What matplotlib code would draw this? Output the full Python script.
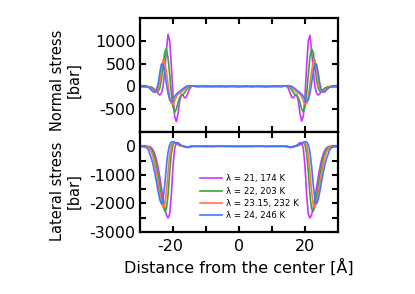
import matplotlib
matplotlib.use("Agg")
import matplotlib.pyplot as plt
import matplotlib.transforms as mtransforms
from matplotlib.ticker import FixedLocator

plt.rcParams['font.family'] = ['DejaVu Sans']
plt.rcParams['axes.unicode_minus'] = False

# ---------------- data ----------------
x_left = [-30, -29, -28, -27.5, -27, -26.5, -26, -25.5, -25, -24.5, -24, -23.5, -23, -22.5,
          -22, -21.5, -21, -20.5, -20, -19.5, -19, -18.5, -18, -17.5, -17, -16.5, -16, -15.5,
          -15, -14.5, -14, -13.5, -13]
x_mid = [-12, -10, -8, -6, -4, -2, 0, 2, 4, 6, 8, 10, 12]
x_right = [13, 13.5, 14, 14.5, 15, 15.5, 16, 16.5, 17, 17.5, 18, 18.5, 19, 19.5, 20, 20.5,
           21, 21.5, 22, 22.5, 23, 23.5, 24, 24.5, 25, 25.5, 26, 26.5, 27, 27.5, 28, 29, 30]
distance = x_left + x_mid + x_right

labels = ["λ = 21, 174 K", "λ = 22, 203 K", "λ = 23.15, 232 K", "λ = 24, 246 K"]
colors = ["#cc33ff", "#33aa33", "#ff7744", "#4477ff"]

# Normal stress [bar]
normal_21 = ([0, 0, 0, -5, -10, -20, -40, -70, -110, -160, -190, -150, 0, 350, 800, 1140, 1000,
              450, -200, -650, -775, -600, -330, -180, -190, -250, -240, -150, -50, -5, 10, 5, 0]
             + [5, -10, 8, -5, 10, -8, 3, -6, 9, -4, 7, -10, 5]
             + [0, 5, 10, -5, -50, -150, -240, -250, -190, -180, -330, -600, -760, -650, -200,
                450, 1000, 1120, 800, 350, 0, -150, -190, -160, -110, -70, -40, -20, -10, -5, 0, 0, 0])
normal_22 = ([0, 0, 0, -5, -10, -25, -50, -80, -110, -110, -40, 150, 450, 750, 825, 620, 250,
              -150, -450, -570, -500, -360, -250, -200, -180, -140, -80, -30, -5, 5, 10, 5, 0]
             + [-6, 8, -4, 10, -7, 5, -9, 6, -3, 9, -8, 4, -5]
             + [0, 5, 10, 5, -5, -30, -80, -140, -180, -200, -250, -360, -500, -560, -450, -150,
                250, 650, 820, 750, 450, 150, -40, -110, -110, -80, -50, -25, -10, -5, 0, 0, 0])
normal_2315 = ([0, 0, -5, -10, -25, -50, -85, -115, -110, -40, 120, 380, 585, 540, 330, 50, -220,
                -380, -390, -320, -230, -170, -150, -130, -100, -60, -25, -5, 5, 10, 10, 5, 0]
               + [9, -5, 6, -10, 4, -6, 10, -4, 7, -9, 3, 8, -6]
               + [0, 5, 10, 10, 5, -5, -25, -60, -100, -130, -150, -170, -230, -320, -390, -380,
                  -220, 50, 330, 540, 580, 380, 120, -40, -110, -115, -85, -50, -25, -10, -5, 0, 0])
normal_24 = ([0, -5, -10, -20, -45, -85, -120, -130, -80, 60, 300, 490, 460, 300, 70, -150, -300,
              -335, -290, -220, -170, -140, -110, -80, -50, -25, 0, 10, 15, 15, 10, 5, 0]
             + [-4, 10, -8, 5, -6, 9, -5, 7, -10, 4, -7, 6, 8]
             + [0, 5, 10, 15, 15, 10, 0, -25, -50, -80, -110, -140, -170, -220, -290, -340,
                -300, -150, 70, 300, 460, 490, 300, 60, -80, -130, -120, -85, -45, -20, -10, -5, 0])

# Lateral stress [bar]
lateral_21 = ([0, 0, 0, -5, -20, -60, -140, -280, -480, -750, -1080, -1450, -1820, -2150, -2400,
               -2510, -2380, -1700, -700, -80, 110, 130, 80, 30, 0, -20, -40, -45, -30, -10, 0, 0, 0]
              + [10, -12, 8, -6, 12, -9, 5, -10, 7, -5, 11, -8, 6]
              + [0, 0, 0, -10, -30, -45, -40, -20, 0, 30, 80, 130, 110, -80, -700, -1700, -2380,
                 -2510, -2400, -2150, -1820, -1450, -1080, -750, -480, -280, -140, -60, -20, -5, 0, 0, 0])
lateral_22 = ([0, 0, -5, -15, -45, -110, -230, -420, -680, -1000, -1370, -1750, -2080, -2270, -2200,
               -1700, -900, -250, 60, 130, 110, 70, 30, 10, 0, -15, -30, -35, -20, -5, 0, 0, 0]
              + [-8, 6, -11, 9, -5, 10, -7, 4, -9, 12, -6, 8, -4]
              + [0, 0, 0, -5, -20, -35, -30, -15, 0, 10, 30, 70, 110, 130, 60, -250, -900, -1700,
                 -2200, -2270, -2080, -1750, -1370, -1000, -680, -420, -230, -110, -45, -15, -5, 0, 0])
lateral_2315 = ([0, -5, -15, -40, -100, -210, -390, -640, -950, -1300, -1660, -1970, -2150, -2050,
                 -1600, -900, -300, 30, 130, 130, 100, 60, 30, 10, 0, -10, -25, -30, -15, -5, 0, 0, 0]
                + [7, -9, 11, -4, 8, -12, 6, -7, 10, -5, 9, -6, 5]
                + [0, 0, 0, -5, -15, -30, -25, -10, 0, 10, 30, 60, 100, 130, 130, 30, -300, -900,
                   -1600, -2050, -2150, -1970, -1660, -1300, -950, -640, -390, -210, -100, -40, -15, -5, 0])
lateral_24 = ([0, -10, -50, -120, -280, -440, -660, -940, -1250, -1580, -1870, -2010, -1850, -1350,
               -700, -200, 60, 150, 160, 140, 110, 80, 50, 30, 10, -5, -15, -20, -10, 0, 0, 0, 0]
              + [-5, 9, -6, 11, -8, 4, -10, 7, -4, 8, -11, 5, -7]
              + [0, 0, 0, 0, -10, -20, -15, -5, 10, 30, 50, 80, 110, 140, 160, 150, 60, -200, -700,
                 -1350, -1850, -2010, -1870, -1580, -1250, -940, -660, -440, -280, -120, -50, -10, 0])

normal_series = [normal_21, normal_22, normal_2315, normal_24]
lateral_series = [lateral_21, lateral_22, lateral_2315, lateral_24]

# ---------------- figure ----------------
fig = plt.figure(figsize=(4.15, 2.94), dpi=100)
L, W = 140 / 415, 198 / 415
ax1 = fig.add_axes([L, 1 - 132 / 294, W, 114 / 294])
ax2 = fig.add_axes([L, 1 - 232 / 294, W, 100 / 294])

for ys, c in zip(normal_series, colors):
    ax1.plot(distance, ys, color=c, lw=1.2)
for ys, c, lab in zip(lateral_series, colors, labels):
    ax2.plot(distance, ys, color=c, lw=1.2, label=lab)

ax1.set_xlim(-30, 30)
ax2.set_xlim(-30, 30)
ax1.set_ylim(-1000, 1500)
ax2.set_ylim(-3000, 500)

ax1.yaxis.set_major_locator(FixedLocator([-500, 0, 500, 1000]))
ax2.yaxis.set_major_locator(FixedLocator([-3000, -2000, -1000, 0]))
ax2.yaxis.set_minor_locator(FixedLocator([-2500, -1500, -500]))
for ax in (ax1, ax2):
    ax.xaxis.set_major_locator(FixedLocator([-20, 0, 20]))
    ax.xaxis.set_minor_locator(FixedLocator([-10, 10]))
    for s in ax.spines.values():
        s.set_linewidth(1.6)
    ax.tick_params(which='both', direction='in', length=4.5, width=1.5,
                   top=True, right=True, labelsize=11.5, pad=3)
ax1.tick_params(labelbottom=False)
ax2.tick_params(axis='x', pad=5)

# shift "-20" so the digits sit centered under the tick
fig.canvas.draw()
for t in ax2.get_xticklabels():
    if t.get_text().startswith('-'):
        t.set_transform(t.get_transform() + mtransforms.ScaledTranslation(-3 / 100, 0, fig.dpi_scale_trans))

ax2.set_xlabel("Distance from the center [Å]", fontsize=11.5, labelpad=3)

fig.text(66 / 415, 1 - 80 / 294, "Normal stress\n[bar]", rotation=90, ha='center', va='center',
         multialignment='center', fontsize=10.5, linespacing=1.1)
fig.text(66 / 415, 1 - 191 / 294, "Lateral stress\n[bar]", rotation=90, ha='center', va='center',
         multialignment='center', fontsize=10.5, linespacing=1.1)

leg = ax2.legend(loc='upper left', bbox_to_anchor=(0.28, 0.62), frameon=False, fontsize=6.2,
                 handlelength=2.6, handletextpad=0.5, labelspacing=0.38, borderpad=0)

fig.savefig("out.png", dpi=100)
